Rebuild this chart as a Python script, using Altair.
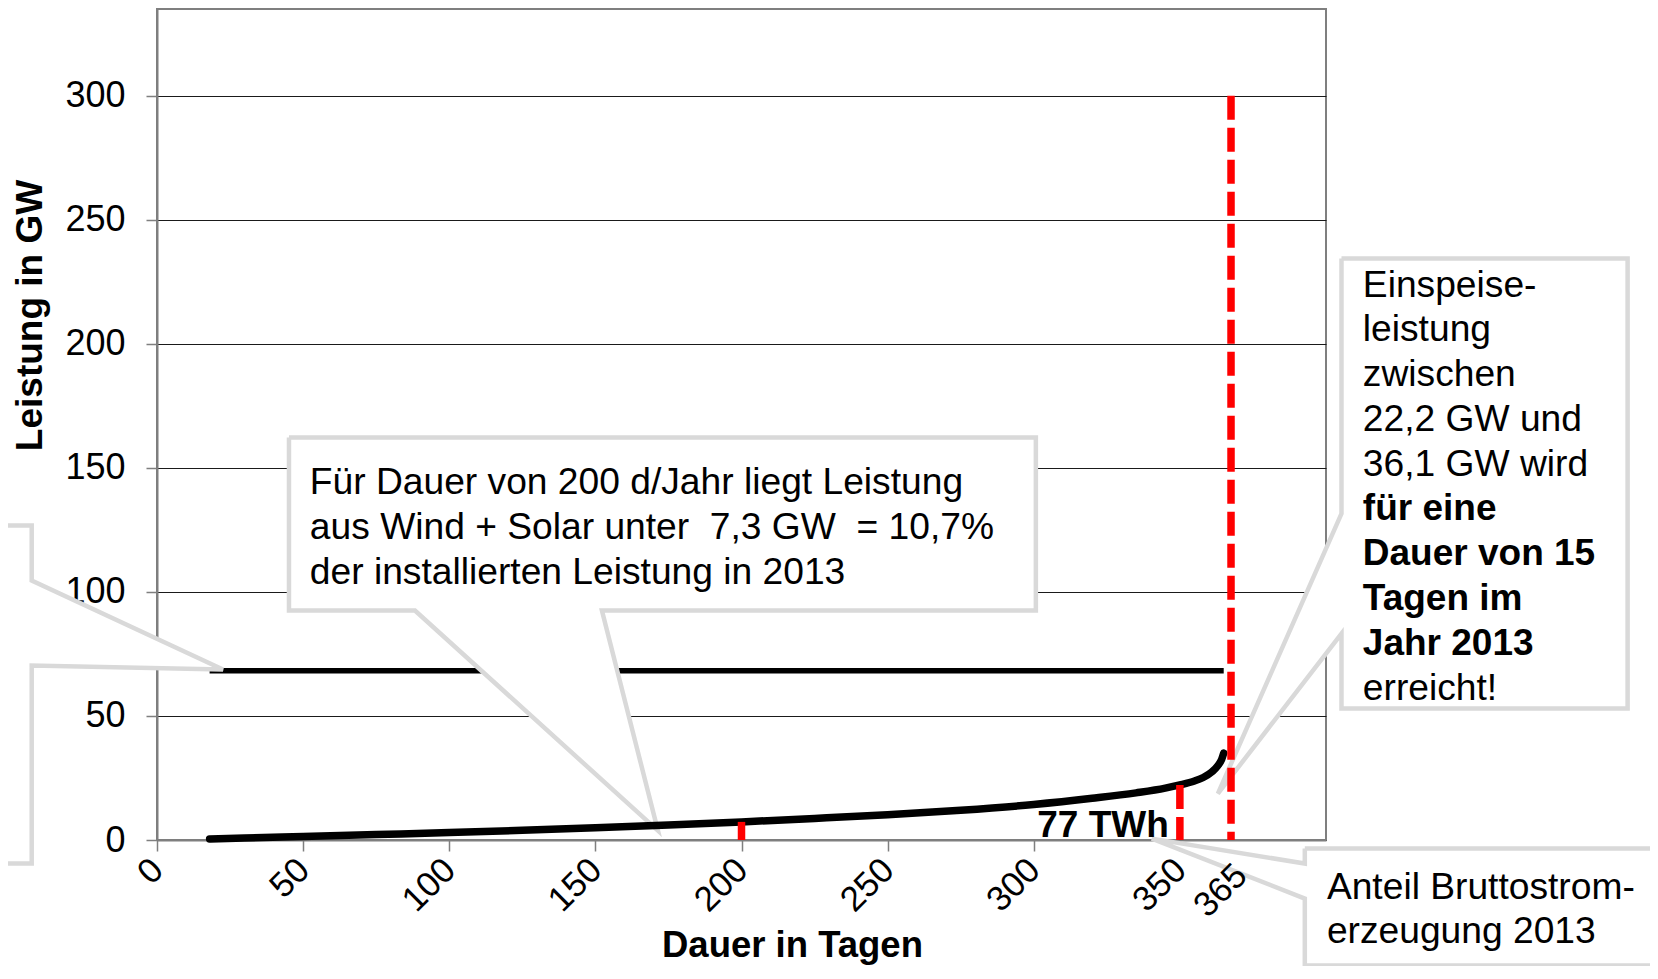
import altair as alt
import pandas as pd

# ---------------- data ----------------
days = [18, 30, 50, 75, 100, 125, 150, 175, 200, 225, 250, 275, 300, 320, 335, 345, 350, 355, 358, 361, 363, 364.3, 365]
power_gw = [0.4, 0.8, 1.4, 2.2, 3.0, 3.9, 4.9, 6.0, 7.3, 8.7, 10.2, 12.0, 14.3, 16.8, 19.0, 20.9, 22.2, 23.8, 25.2, 27.5, 30.0, 32.5, 35.0]

installed_days = [18, 365]
installed_gw = [68.2, 68.2]

marker_days = [200, 350, 367.5]
marker_gw = [7.3, 22.2, 300]

x_ticks = [0, 50, 100, 150, 200, 250, 300, 350]
y_ticks = [0, 50, 100, 150, 200, 250, 300]
extra_tick_label = "365"
extra_tick_day = 371

# callout outlines (day, GW) - annotation geometry
callout_mid = [(45.16, 162.26), (300.72, 162.26), (300.72, 92.5), (152.24, 92.5), (171.4, 3.79),
               (88.27, 92.5), (45.16, 92.5), (45.16, 162.26)]
callout_right = [(405.3, 234.4), (503.2, 234.4), (503.2, 52.98), (405.3, 52.98), (405.3, 83.2),
                 (363.0, 18.7), (405.3, 131.6), (405.3, 234.4)]
callout_bottom = [(392.75, -3.47), (527.9, -3.47), (527.9, -50.6), (392.75, -50.6), (392.75, -23.6),
                  (340.4, 0.56), (392.75, -9.5), (392.75, -3.47)]
callout_left = [(-70.8, 126.8), (-42.87, 126.8), (-42.87, 104.6), (22.58, 68.7), (-42.87, 70.3),
                (-42.87, -9.5), (-70.8, -9.5), (-70.8, 126.8)]

normal_texts = [
    (52.3, 139.3, "Für Dauer von 200 d/Jahr liegt Leistung\naus Wind + Solar unter \u00a07,3 GW \u00a0= 10,7%\nder installierten Leistung in 2013"),
    (412.6, 219.1, "Einspeise-\nleistung\nzwischen\n22,2 GW und\n36,1 GW wird"),
    (412.6, 56.5, "erreicht!"),
    (400.3, -23.6, "Anteil Bruttostrom-\nerzeugung 2013"),
]
bold_texts = [
    (412.6, 128.8, "für eine\nDauer von 15\nTagen im\nJahr 2013"),
    (301.2, 1.4, "77 TWh"),
]

FONT = "Liberation Sans"
X_DOM = [0, 400]
Y_DOM = [0, 335]
PX_PER_GW = 831 / 335.0
LABEL_PAD = 13
LABEL_SIZE = 35

x_axis = alt.Axis(
    values=x_ticks, title="Dauer in Tagen", titleFont=FONT, titleFontSize=36.5, titleFontWeight="bold",
    titleColor="black", titleX=635, titleY=116, titleAlign="center", titleBaseline="alphabetic",
    labelAngle=315, labelAlign="right", labelBaseline="middle", labelFont=FONT, labelFontSize=LABEL_SIZE,
    labelColor="black", labelOverlap=False, labelFlush=False, labelPadding=LABEL_PAD,
    tickSize=11, tickColor="#7f7f7f", tickWidth=1.5, domainColor="#7f7f7f", domainWidth=2,
    grid=False, format="d",
)
y_axis = alt.Axis(
    values=y_ticks, title="Leistung in GW", titleFont=FONT, titleFontSize=37, titleFontWeight="bold",
    titleColor="black", titleAngle=270, titleX=-127, titleY=306, titleAlign="center", titleBaseline="middle",
    labelFont=FONT, labelFontSize=36, labelColor="black", labelPadding=21, labelBaseline="middle",
    tickSize=11, tickColor="#7f7f7f", tickWidth=1.5, domainColor="#7f7f7f", domainWidth=2,
    grid=True, gridColor="#1a1a1a", gridWidth=1.2, format="d",
)


def xenc(field="x"):
    return alt.X(f"{field}:Q", scale=alt.Scale(domain=X_DOM, nice=False, zero=False), axis=x_axis)


def yenc(field="y"):
    return alt.Y(f"{field}:Q", scale=alt.Scale(domain=Y_DOM, nice=False, zero=False), axis=y_axis)


curve_df = pd.DataFrame({"x": days, "y": power_gw})
inst_df = pd.DataFrame({"x": installed_days, "y": installed_gw})
mark_df = pd.DataFrame({"x": marker_days, "y": marker_gw, "y0": [0] * len(marker_days)})

rows = []
for name, pts in [("mid", callout_mid), ("right", callout_right), ("bottom", callout_bottom), ("left", callout_left)]:
    for i, (dx, gy) in enumerate(pts):
        rows.append({"shape": name, "order": i, "x": dx, "y": gy})
callout_df = pd.DataFrame(rows)

ntext_df = pd.DataFrame(normal_texts, columns=["x", "y", "text"])
btext_df = pd.DataFrame(bold_texts, columns=["x", "y", "text"])
extra_df = pd.DataFrame({"x": [extra_tick_day], "y": [-(30 / PX_PER_GW)], "text": [extra_tick_label]})

installed = alt.Chart(inst_df).mark_line(color="black", strokeWidth=5.5, strokeCap="butt").encode(
    x=xenc(), y=yenc()
)

callouts = alt.Chart(callout_df).mark_line(
    fill="white", stroke="#d9d9d9", strokeWidth=4.5, strokeJoin="miter"
).encode(x=xenc(), y=yenc(), detail="shape:N", order=alt.Order("order:Q"))

curve = alt.Chart(curve_df).mark_line(
    color="black", strokeWidth=7.5, strokeCap="round", interpolate="monotone"
).encode(x=xenc(), y=yenc())

markers = alt.Chart(mark_df).mark_rule(color="#ff0000", strokeWidth=7.5, strokeDash=[24, 8], strokeCap="butt").encode(
    x=xenc(), y=yenc("y"), y2="y0:Q"
)

ntext = alt.Chart(ntext_df).mark_text(
    font=FONT, fontSize=37.2, align="left", baseline="alphabetic", lineBreak="\n", lineHeight=44.8, color="black"
).encode(x=xenc(), y=yenc(), text="text:N")

btext = alt.Chart(btext_df).mark_text(
    font=FONT, fontSize=37, fontWeight="bold", align="left", baseline="alphabetic", lineBreak="\n",
    lineHeight=44.8, color="black"
).encode(x=xenc(), y=yenc(), text="text:N")

extra_label = alt.Chart(extra_df).mark_text(
    font=FONT, fontSize=LABEL_SIZE, angle=315, align="right", baseline="middle", color="black"
).encode(x=xenc(), y=yenc(), text="text:N")

chart = alt.layer(installed, callouts, curve, markers, ntext, btext, extra_label).properties(
    width=1169, height=831,
    padding={"left": 149, "top": 1, "right": 324, "bottom": 126},
    autosize=alt.AutoSizeParams(type="none"),
).configure(font=FONT, background="white").configure_view(stroke="#7f7f7f", strokeWidth=2)

chart.save("out.html", embed_options={"renderer": "svg", "actions": False})
